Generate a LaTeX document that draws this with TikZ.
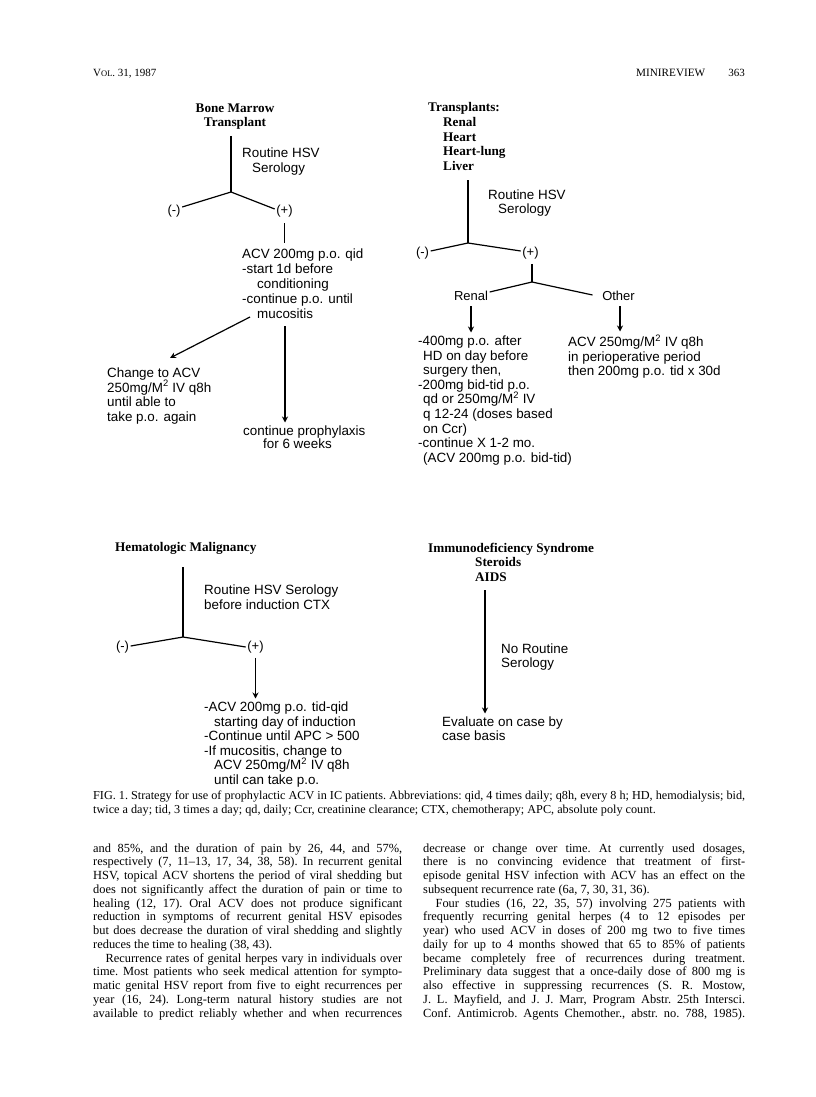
\documentclass[tikz,border=0pt]{standalone}
\usepackage{fontspec}
\setmainfont{Liberation Serif}
\newfontfamily\figfont{Liberation Sans}
\usetikzlibrary{arrows.meta}

\tikzset{
  lbl/.style={font=\figfont\fontsize{13.4}{14.6}\selectfont, inner sep=0pt, align=left},
  hd/.style={font=\bfseries\fontsize{13.2}{14.6}\selectfont, inner sep=0pt, align=left},
  sgn/.style={font=\figfont\fontsize{13}{14}\selectfont, inner sep=1.5pt},
  branch/.style={line width=1.2pt},
  arr/.style={line width=1.2pt, -{Stealth[length=6pt,width=6pt]}, shorten >=3pt},
  body/.style={font=\frenchspacing\fontsize{12.4}{13.75}\selectfont, inner sep=0pt, anchor=base west},
  capt/.style={font=\frenchspacing\fontsize{12.2}{14}\selectfont, inner sep=0pt, anchor=base west},
}

\begin{document}
\begin{tikzpicture}[x=1pt,y=-1pt]
    \useasboundingbox (0,0) rectangle (816,1097);
    % running head
    \node[anchor=base west, inner sep=0pt, font=\fontsize{11}{13}\selectfont] (vol) at (93,77)
      {V{\fontsize{8.5}{10}\selectfont OL}. 31, 1987};
    \node[anchor=base west, inner sep=0pt, font=\fontsize{11.2}{13}\selectfont] (rhead) at (636,77) {MINIREVIEW};
    \node[anchor=base east, inner sep=0pt, font=\fontsize{11}{13}\selectfont] (pgno) at (745,77) {363};

    % bone marrow transplant
    \node[hd, align=center, anchor=north] (bmtHead) at (235,103.5) {Bone Marrow\\Transplant};
    \node[lbl, anchor=north west] (bmtSero) at (242,147.5) {Routine HSV\\\hspace*{10pt}Serology};
    \coordinate (bmtTop) at (231,136);
    \coordinate (bmtJ) at (231,192);
    \node[sgn] (bmtNeg) at (174,211) {(-)};
    \node[sgn] (bmtPos) at (284.5,211) {(+)};
    \draw[branch] (bmtTop) -- (bmtJ);
    \draw[branch] (bmtJ) -- ([yshift=4pt]bmtNeg.east);
    \draw[branch] (bmtJ) -- ([yshift=2pt]bmtPos.west);
    \node[lbl, anchor=north west, font=\figfont\fontsize{13.4}{15}\selectfont] (bmtRx) at (242,248.5)
      {ACV 200mg p.o. qid\\-start 1d before\\\hspace*{15pt}conditioning\\-continue p.o. until\\\hspace*{15pt}mucositis};
    \draw[branch, shorten >=6pt] (bmtPos.south |- 0,223) -- (bmtPos.south |- bmtRx.north);
    \node[lbl, anchor=north west] (bmtIV) at (107,367.5)
      {Change to ACV\\250mg/M\textsuperscript{2} IV q8h\\until able to\\take p.o. again};
    \node[lbl, anchor=north west, font=\figfont\fontsize{13.4}{13.5}\selectfont] (bmtCont) at (243,425.5)
      {continue prophylaxis\\\hspace*{20pt}for 6 weeks};
    \coordinate (bmtA1) at (250,317);
    \coordinate (bmtA2) at (170,358);
    \coordinate (bmtB1) at (285,326);
    \draw[arr, shorten >=0pt] (bmtA1) -- (bmtA2);
    \draw[arr] (bmtB1) -- (bmtB1 |- bmtCont.north);

    % organ transplants
    \node[hd, anchor=north west] (txHead) at (428,102.5)
      {Transplants:\\\hspace*{15pt}Renal\\\hspace*{15pt}Heart\\\hspace*{15pt}Heart-lung\\\hspace*{15pt}Liver};
    \node[lbl, anchor=north west, font=\figfont\fontsize{13.4}{14}\selectfont] (txSero) at (488,189.5)
      {Routine HSV\\\hspace*{10pt}Serology};
    \coordinate (txTop) at (468,180);
    \coordinate (txJ) at (468,243);
    \node[sgn] (txNeg) at (422.5,253) {(-)};
    \node[sgn] (txPos) at (530.5,253) {(+)};
    \draw[branch] (txTop) -- (txJ);
    \draw[branch] (txJ) -- ([yshift=2pt]txNeg.east);
    \draw[branch] (txJ) -- ([yshift=2pt]txPos.west);
    \coordinate (txJ2) at (532,282);
    \draw[branch] ([yshift=-3pt]txPos.south -| txJ2) -- (txJ2);
    \node[sgn] (txRenal) at (471,296) {Renal};
    \node[sgn] (txOther) at (618.5,296) {Other};
    \draw[branch] (txJ2) -- ([yshift=4pt]txRenal.east);
    \draw[branch] (txJ2) -- ([xshift=-8pt,yshift=1pt]txOther.west);
    \node[lbl, anchor=north west] (txRenalRx) at (418,335.5)
      {-400mg p.o. after\\\hspace*{5pt}HD on day before\\\hspace*{5pt}surgery then,\\-200mg bid-tid p.o.\\
       \hspace*{5pt}qd or 250mg/M\textsuperscript{2} IV\\\hspace*{5pt}q 12-24 (doses based\\\hspace*{5pt}on Ccr)\\
       -continue X 1-2 mo.\\\hspace*{5pt}(ACV 200mg p.o. bid-tid)};
    \node[lbl, anchor=north west] (txOtherRx) at (568,334.5)
      {ACV 250mg/M\textsuperscript{2} IV q8h\\in perioperative period\\then 200mg p.o. tid x 30d};
    \draw[arr] ([yshift=-4pt]txRenal.south) -- (txRenal.south |- txRenalRx.north);
    \draw[arr] ([xshift=1.5pt,yshift=-4pt]txOther.south) -- ([xshift=1.5pt]txOther.south |- txOtherRx.north);

    % hematologic malignancy
    \node[hd, anchor=north west] (hmHead) at (115,542.5) {Hematologic Malignancy};
    \node[lbl, anchor=north west, font=\figfont\fontsize{13.4}{15}\selectfont] (hmSero) at (204,584.5)
      {Routine HSV Serology\\before induction CTX};
    \coordinate (hmTop) at (183,567);
    \coordinate (hmJ) at (183,637);
    \node[sgn] (hmNeg) at (122.5,647) {(-)};
    \node[sgn] (hmPos) at (255.5,647) {(+)};
    \draw[branch] (hmTop) -- (hmJ);
    \draw[branch] (hmJ) -- ([yshift=1pt]hmNeg.east);
    \draw[branch] (hmJ) -- ([yshift=0pt]hmPos.west);
    \node[lbl, anchor=north west] (hmRx) at (204,701.5)
      {-ACV 200mg p.o. tid-qid\\\hspace*{10pt}starting day of induction\\-Continue until APC > 500\\
       -If mucositis, change to\\\hspace*{10pt}ACV 250mg/M\textsuperscript{2} IV q8h\\\hspace*{10pt}until can take p.o.};
    \draw[arr] ([yshift=-3pt]hmPos.south) -- (hmPos.south |- hmRx.north);

    % immunodeficiency
    \node[hd, anchor=north west] (imHead) at (428,542.5)
      {Immunodeficiency Syndrome\\\hspace*{47pt}Steroids\\\hspace*{47pt}AIDS};
    \node[lbl, anchor=north west, font=\figfont\fontsize{13.4}{14}\selectfont] (imNo) at (501,643.5)
      {No Routine\\Serology};
    \node[lbl, anchor=north west, font=\figfont\fontsize{13.4}{14}\selectfont] (imEval) at (442,716.5)
      {Evaluate on case by\\case basis};
    \coordinate (imTop) at (485,590);
    \draw[arr] (imTop) -- (imTop |- imEval.north);

    % caption
    \node[capt] (cap1) at (93,799.5) {\makebox[652pt][s]{FIG. 1. Strategy for use of prophylactic ACV in IC patients. Abbreviations: qid, 4 times daily; q8h, every 8 h; HD, hemodialysis; bid,}};
    \node[capt] (cap2) at (93,813.5) {twice a day; tid, 3 times a day; qd, daily; Ccr, creatinine clearance; CTX, chemotherapy; APC, absolute poly count.};

    % body text, left column
    \foreach \ln [count=\i] in {
      {and 85\%, and the duration of pain by 26, 44, and 57\%,},
      {respectively (7, 11–13, 17, 34, 38, 58). In recurrent genital},
      {HSV, topical ACV shortens the period of viral shedding but},
      {does not significantly affect the duration of pain or time to},
      {healing (12, 17). Oral ACV does not produce significant},
      {reduction in symptoms of recurrent genital HSV episodes},
      {but does decrease the duration of viral shedding and slightly},
      {reduces the time to healing (38, 43).\hfill},
      {\hspace*{1em}Recurrence rates of genital herpes vary in individuals over},
      {time. Most patients who seek medical attention for sympto-},
      {matic genital HSV report from five to eight recurrences per},
      {year (16, 24). Long-term natural history studies are not},
      {available to predict reliably whether and when recurrences}}
      \node[body] (lc\i) at (93,{852+13.75*(\i-1)}) {\makebox[309pt][s]{\ln}};
    % body text, right column
    \foreach \ln [count=\i] in {
      {decrease or change over time. At currently used dosages,},
      {there is no convincing evidence that treatment of first-},
      {episode genital HSV infection with ACV has an effect on the},
      {subsequent recurrence rate (6a, 7, 30, 31, 36).\hfill},
      {\hspace*{1em}Four studies (16, 22, 35, 57) involving 275 patients with},
      {frequently recurring genital herpes (4 to 12 episodes per},
      {year) who used ACV in doses of 200 mg two to five times},
      {daily for up to 4 months showed that 65 to 85\% of patients},
      {became completely free of recurrences during treatment.},
      {Preliminary data suggest that a once-daily dose of 800 mg is},
      {also effective in suppressing recurrences (S. R. Mostow,},
      {J. L. Mayfield, and J. J. Marr, Program Abstr. 25th Intersci.},
      {Conf. Antimicrob. Agents Chemother., abstr. no. 788, 1985).}}
      \node[body] (rc\i) at (423,{852+13.75*(\i-1)}) {\makebox[322pt][s]{\ln}};
  \end{tikzpicture}
\end{document}
